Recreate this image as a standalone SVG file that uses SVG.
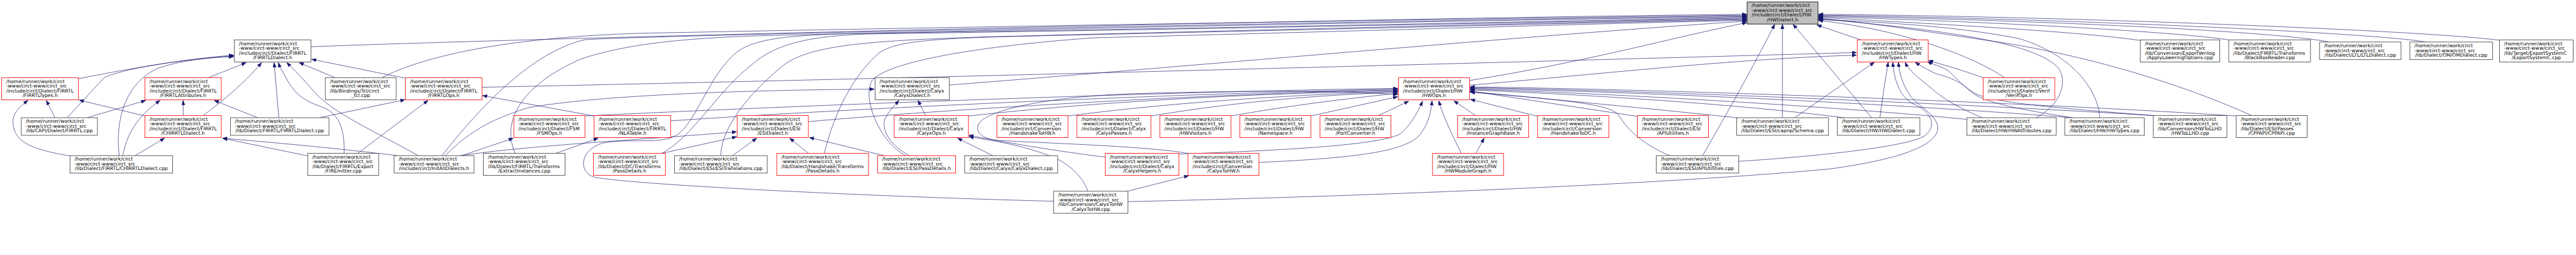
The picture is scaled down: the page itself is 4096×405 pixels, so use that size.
<svg xmlns="http://www.w3.org/2000/svg" width="4096" height="405" viewBox="0 0 4096 405">
<defs>
<style>
.n rect{fill:#fff;stroke:#404040;stroke-width:1.4}
.r rect{stroke:#ff0000}
.root rect{fill:#bfbfbf;stroke:#000}
text{font-family:"DejaVu Sans","Liberation Sans",sans-serif;font-size:12.8px;fill:#000}
.m{text-anchor:middle}
.e path{fill:none;stroke:#191970;stroke-width:1.1;marker-end:url(#a)}
</style>
<marker id="a" markerUnits="userSpaceOnUse" markerWidth="13" markerHeight="10" refX="12" refY="4.5" orient="auto"><path d="M0,0 L12,4.5 L0,9 z" fill="#191970" stroke="#191970" stroke-width="1"/></marker>
</defs>
<rect width="4096" height="405" fill="#fff"/>
<g transform="scale(0.6)">
<g id="edges" class="e">
<path d="M824.5,123.6 C1600,95 3800,45 4629,38"/>
<path d="M1012,205.5 C1100,160 1300,100 1700,88 C2600,70 4000,48 4629,40"/>
<path d="M1171,412 C1260,300 1400,140 1550,105 C1800,90 4000,50 4629,42"/>
<path d="M1365.5,406 C1330,330 1370,230 1540,156 C1650,120 1780,103 2000,95 C3000,70 4200,50 4629,44"/>
<path d="M2792,532.7 C2300,520 1700,490 1580,470 C1530,460 1535,395 1600,378 C1680,365 1760,385 1800,353 C1850,310 1880,200 1950,140 C2000,100 2100,92 2300,88 C3500,70 4300,52 4629,46"/>
<path d="M1753.6,406 C1840,360 1900,240 2000,165 C2060,115 2150,95 2300,90 C3500,72 4300,54 4629,48"/>
<path d="M1910,412 C1912,340 1980,250 2080,170 C2150,120 2300,108 2600,98 C3500,75 4300,56 4629,50"/>
<path d="M2184.5,406 C2210,300 2260,200 2330,140 C2370,112 2450,102 2700,96 C3600,76 4300,58 4629,52"/>
<path d="M2400,412 C2330,375 2285,260 2310,215 C2340,170 2550,125 2900,100 C3700,80 4300,60 4629,54"/>
<path d="M2515.6,225 C3100,180 4100,90 4629,56"/>
<path d="M3894.5,213 C4200,165 4450,95 4629,60"/>
<path d="M4931,105.5 L4815,66"/>
<path d="M1277.5,231 C2400,208 4000,165 4920,139"/>
<path d="M3894.5,225.5 C4200,200 4600,155 4920,146"/>
<path d="M6629,107 C6400,78 5400,42 4819,38"/>
<path d="M6430,111.3 C6300,88 5500,50 4819,40"/>
<path d="M6173,111.3 C6050,86 5500,56 4819,42"/>
<path d="M5908,106 C5780,85 5300,58 4819,44"/>
<path d="M5672,107 C5500,82 5100,62 4819,46"/>
<path d="M5967,305.8 C5800,230 5550,150 5300,112 C5100,82 4950,60 4819,48"/>
<path d="M5395.5,311.6 C5450,285 5485,225 5455,180 C5400,120 5200,82 4819,50"/>
<path d="M5564.5,311.6 C5560,230 5480,140 5350,102 C5200,72 5000,58 4819,52"/>
<path d="M5312,205.5 C5230,150 5050,80 4819,54"/>
<path d="M4723.6,311.6 L4723.6,64.5"/>
<path d="M4960,311.6 L4752,64.5"/>
<path d="M4512,412 C4545,355 4640,190 4703,64.5"/>
<path d="M4756,311.6 L4967,165"/>
<path d="M4982,311.6 C4990,250 4998,200 5004,165"/>
<path d="M4608,427 C4800,415 5050,390 5100,360 C5140,330 5110,290 5070,275 C5040,260 5020,220 5016,165"/>
<path d="M2989.3,533.8 C3800,515 4500,480 4850,447 C5050,420 5140,380 5135,335 C5130,300 5080,280 5060,250 C5040,220 5033,190 5031,165"/>
<path d="M5253.6,311.6 C5200,290 5150,262 5120,235 C5090,210 5060,190 5049,165"/>
<path d="M5493.6,311.6 C5350,290 5250,270 5220,240 C5190,210 5150,200 5130,195 C5110,185 5090,175 5076,165"/>
<path d="M5711,306 C5500,290 5300,275 5240,250 C5200,230 5180,200 5160,185 C5140,175 5125,170 5108,164"/>
<path d="M5255.5,206 C5200,185 5150,172 5111,160"/>
<path d="M4074.7,308 L3897,263"/>
<path d="M4339,308 L3896,241"/>
<path d="M4424.5,412 C4350,380 4310,340 4290,305 C4270,280 4200,268 3896,244"/>
<path d="M4605,312 C4400,290 4100,262 3896,242"/>
<path d="M4887,311.6 C4600,275 4200,250 3896,238"/>
<path d="M5212.5,316 C4900,285 4300,248 3896,236"/>
<path d="M5490,311.6 C5100,280 4400,244 3896,234"/>
<path d="M5706.5,306 C5300,280 4400,240 3896,232"/>
<path d="M5926,307 C5400,272 4400,236 3896,230"/>
<path d="M1550,307 C2200,275 3200,240 3704,234"/>
<path d="M1777,320 C2300,284 3200,245 3704,236"/>
<path d="M2142,322 C2500,290 3200,248 3704,238"/>
<path d="M2566.5,307 C2900,270 3300,248 3704,240"/>
<path d="M2830,307 C3100,272 3400,252 3704,242"/>
<path d="M3050,307 C3300,266 3500,252 3704,244"/>
<path d="M3262,307 C3450,274 3600,258 3704,247"/>
<path d="M3473.8,307 L3704,256"/>
<path d="M3148,406 C3050,388 2800,380 2650,372 C2590,368 2580,340 2600,320 C2640,285 2800,255 3000,248 C3300,240 3500,238 3704,250"/>
<path d="M3652.7,306 L3733,268"/>
<path d="M3122,408 C3400,398 3650,385 3710,355 C3740,330 3755,300 3770,268"/>
<path d="M3336.5,430 C3600,418 3720,400 3760,360 C3785,330 3792,300 3795,267"/>
<path d="M3872.7,406 C3850,360 3825,310 3813,267"/>
<path d="M3911,306 L3853,267"/>
<path d="M3911,406 L3933,366"/>
<path d="M2929,416 C2800,400 2650,375 2568,358"/>
<path d="M2883,506 C2870,470 2840,440 2800,420 C2720,385 2620,370 2568,362"/>
<path d="M2452.7,305.8 L2433,266"/>
<path d="M2631,412 L2538,366"/>
<path d="M2410,412 C2360,385 2335,345 2345,315 C2355,295 2370,280 2382,266"/>
<path d="M2343,412 L2145,364"/>
<path d="M2989,506 L3150,465"/>
<path d="M208,208.4 C350,180 500,155 619,146"/>
<path d="M178,311.6 L276,205.5 C320,185 450,160 619,148"/>
<path d="M316,412 C305,320 330,220 420,180 C480,160 550,152 619,150"/>
<path d="M552.7,205.5 L652,166"/>
<path d="M538,305.8 C560,290 640,230 693,166"/>
<path d="M739,311.6 L726.4,166"/>
<path d="M911.8,406 C915,330 890,295 850,282 C800,265 780,245 760,210 C750,190 742,180 738,166"/>
<path d="M1108,412 C1000,350 880,300 830,240 C800,205 780,185 760,166"/>
<path d="M888,205.5 L793,166"/>
<path d="M1074.4,207 L826,157"/>
<path d="M145.5,311.6 L123,266"/>
<path d="M185.5,412.7 C80,395 40,375 35,330 C30,300 55,280 74,266"/>
<path d="M384,307 L210,265"/>
<path d="M231,311.6 L386,266"/>
<path d="M325.5,412 C335,360 360,310 424,266"/>
<path d="M485.5,305.8 L485.5,266"/>
<path d="M683,311.6 L568,266"/>
<path d="M358,412 L436,366"/>
<path d="M815.5,412.7 L590,366"/>
<path d="M1053.6,412 C900,393 700,375 590,366"/>
<path d="M846,311.6 L1073,264"/>
<path d="M948,406 L1134,266"/>
<path d="M1574.5,307 L1279,253"/>
<path d="M1223.6,412 L1360,366"/>
<path d="M1472.7,406 L1585,366"/>
<path d="M1220,412 C1400,385 1700,370 1952,349"/>
<path d="M1753.6,406 L1952,362"/>
<path d="M1941,412 L2005,366"/>
<path d="M2142.7,406 L2093,366"/>
<path d="M1180,412 C1250,340 1320,310 1400,285 C1600,250 2000,238 2317,236"/>
</g>
<g id="n_hwdialect_h" class="n root"><rect x="4630" y="5.1" width="188" height="58.5"/><text x="4642" y="18.9">/home/runner/work/circt</text><text x="4642" y="31.4">-www/circt-www/circt_src</text><text x="4642" y="43.9">/include/circt/Dialect/HW</text><text class="m" x="4724" y="56.4">/HWDialect.h</text></g>
<g id="n_firrtldialect_h" class="n"><rect x="621" y="105.5" width="203" height="58.5"/><text x="633" y="119.3">/home/runner/work/circt</text><text x="633" y="131.8">-www/circt-www/circt_src</text><text x="633" y="144.3">/include/circt/Dialect/FIRRTL</text><text class="m" x="722.5" y="156.8">/FIRRTLDialect.h</text></g>
<g id="n_hwtypes_h" class="n r"><rect x="4922" y="105.5" width="188" height="58.5"/><text x="4934" y="119.3">/home/runner/work/circt</text><text x="4934" y="131.8">-www/circt-www/circt_src</text><text x="4934" y="144.3">/include/circt/Dialect/HW</text><text class="m" x="5016" y="156.8">/HWTypes.h</text></g>
<g id="n_applylowering" class="n"><rect x="5672" y="105.5" width="210.5" height="58.5"/><text x="5684" y="119.3">/home/runner/work/circt</text><text x="5684" y="131.8">-www/circt-www/circt_src</text><text x="5684" y="144.3">/lib/Conversion/ExportVerilog</text><text class="m" x="5777.2" y="156.8">/ApplyLoweringOptions.cpp</text></g>
<g id="n_blackbox" class="n"><rect x="5906.5" y="105.5" width="216.5" height="58.5"/><text x="5918.5" y="119.3">/home/runner/work/circt</text><text x="5918.5" y="131.8">-www/circt-www/circt_src</text><text x="5918.5" y="144.3">/lib/Dialect/FIRRTL/Transforms</text><text class="m" x="6014.7" y="156.8">/BlackBoxReader.cpp</text></g>
<g id="n_ltl" class="n"><rect x="6147" y="111.3" width="216" height="46.5"/><text x="6159" y="125.1">/home/runner/work/circt</text><text x="6159" y="137.6">-www/circt-www/circt_src</text><text class="m" x="6255" y="150.1">/lib/Dialect/LTL/LTLDialect.cpp</text></g>
<g id="n_om" class="n"><rect x="6386.5" y="111.3" width="219" height="46.5"/><text x="6398.5" y="125.1">/home/runner/work/circt</text><text x="6398.5" y="137.6">-www/circt-www/circt_src</text><text class="m" x="6496" y="150.1">/lib/Dialect/OM/OMDialect.cpp</text></g>
<g id="n_exportsystemc" class="n"><rect x="6624" y="105.5" width="195" height="58.5"/><text x="6636" y="119.3">/home/runner/work/circt</text><text x="6636" y="131.8">-www/circt-www/circt_src</text><text x="6636" y="144.3">/lib/Target/ExportSystemC</text><text class="m" x="6721.5" y="156.8">/ExportSystemC.cpp</text></g>
<g id="n_firrtltypes_h" class="n r"><rect x="4.4" y="205.5" width="203.6" height="58.9"/><text x="16.4" y="219.3">/home/runner/work/circt</text><text x="16.4" y="231.8">-www/circt-www/circt_src</text><text x="16.4" y="244.3">/include/circt/Dialect/FIRRTL</text><text class="m" x="106.2" y="256.8">/FIRRTLTypes.h</text></g>
<g id="n_firrtlattributes_h" class="n r"><rect x="384" y="205.5" width="202.4" height="58.9"/><text x="396" y="219.3">/home/runner/work/circt</text><text x="396" y="231.8">-www/circt-www/circt_src</text><text x="396" y="244.3">/include/circt/Dialect/FIRRTL</text><text class="m" x="485.2" y="256.8">/FIRRTLAttributes.h</text></g>
<g id="n_circt_tcl" class="n"><rect x="862" y="205.5" width="188" height="58.9"/><text x="874" y="219.3">/home/runner/work/circt</text><text x="874" y="231.8">-www/circt-www/circt_src</text><text x="874" y="244.3">/lib/Bindings/Tcl/circt</text><text class="m" x="956" y="256.8">_tcl.cpp</text></g>
<g id="n_firrtlops_h" class="n r"><rect x="1074.4" y="205.5" width="203.1" height="58.9"/><text x="1086.4" y="219.3">/home/runner/work/circt</text><text x="1086.4" y="231.8">-www/circt-www/circt_src</text><text x="1086.4" y="244.3">/include/circt/Dialect/FIRRTL</text><text class="m" x="1176" y="256.8">/FIRRTLOps.h</text></g>
<g id="n_calyxdialect_h" class="n"><rect x="2319" y="205.5" width="196.6" height="58.9"/><text x="2331" y="219.3">/home/runner/work/circt</text><text x="2331" y="231.8">-www/circt-www/circt_src</text><text x="2331" y="244.3">/include/circt/Dialect/Calyx</text><text class="m" x="2417.3" y="256.8">/CalyxDialect.h</text></g>
<g id="n_hwops_h" class="n r"><rect x="3706" y="205.5" width="188.5" height="58.9"/><text x="3718" y="219.3">/home/runner/work/circt</text><text x="3718" y="231.8">-www/circt-www/circt_src</text><text x="3718" y="244.3">/include/circt/Dialect/HW</text><text class="m" x="3800" y="256.8">/HWOps.h</text></g>
<g id="n_verifops_h" class="n r"><rect x="5255.5" y="205.5" width="189.8" height="58.9"/><text x="5267.5" y="219.3">/home/runner/work/circt</text><text x="5267.5" y="231.8">-www/circt-www/circt_src</text><text x="5267.5" y="244.3">/include/circt/Dialect/Verif</text><text class="m" x="5350.4" y="256.8">/VerifOps.h</text></g>
<g id="n_chirrtldialect_h" class="n r"><rect x="384" y="305.8" width="202.4" height="58.5"/><text x="396" y="319.6">/home/runner/work/circt</text><text x="396" y="332.1">-www/circt-www/circt_src</text><text x="396" y="344.6">/include/circt/Dialect/FIRRTL</text><text class="m" x="485.2" y="357.1">/CHIRRTLDialect.h</text></g>
<g id="n_capi_firrtl" class="n"><rect x="56.4" y="311.6" width="201.8" height="46.6"/><text x="68.4" y="325.4">/home/runner/work/circt</text><text x="68.4" y="337.9">-www/circt-www/circt_src</text><text class="m" x="157.3" y="350.4">/lib/CAPI/Dialect/FIRRTL.cpp</text></g>
<g id="n_firrtldialect_cpp" class="n"><rect x="610.7" y="311.6" width="261.1" height="46.6"/><text x="622.7" y="325.4">/home/runner/work/circt</text><text x="622.7" y="337.9">-www/circt-www/circt_src</text><text class="m" x="741.2" y="350.4">/lib/Dialect/FIRRTL/FIRRTLDialect.cpp</text></g>
<g id="n_fsmops_h" class="n r"><rect x="1361.8" y="305.8" width="188.4" height="58.5"/><text x="1373.8" y="319.6">/home/runner/work/circt</text><text x="1373.8" y="332.1">-www/circt-www/circt_src</text><text x="1373.8" y="344.6">/include/circt/Dialect/FSM</text><text class="m" x="1456" y="357.1">/FSMOps.h</text></g>
<g id="n_nlatable_h" class="n r"><rect x="1574.5" y="305.8" width="202.8" height="58.5"/><text x="1586.5" y="319.6">/home/runner/work/circt</text><text x="1586.5" y="332.1">-www/circt-www/circt_src</text><text x="1586.5" y="344.6">/include/circt/Dialect/FIRRTL</text><text class="m" x="1675.9" y="357.1">/NLATable.h</text></g>
<g id="n_esidialect_h" class="n r"><rect x="1953.6" y="305.8" width="188.4" height="58.5"/><text x="1965.6" y="319.6">/home/runner/work/circt</text><text x="1965.6" y="332.1">-www/circt-www/circt_src</text><text x="1965.6" y="344.6">/include/circt/Dialect/ESI</text><text class="m" x="2047.8" y="357.1">/ESIDialect.h</text></g>
<g id="n_calyxops_h" class="n r"><rect x="2369.8" y="305.8" width="196.7" height="58.5"/><text x="2381.8" y="319.6">/home/runner/work/circt</text><text x="2381.8" y="332.1">-www/circt-www/circt_src</text><text x="2381.8" y="344.6">/include/circt/Dialect/Calyx</text><text class="m" x="2468.2" y="357.1">/CalyxOps.h</text></g>
<g id="n_handshaketohw_h" class="n r"><rect x="2641.8" y="305.8" width="188.4" height="58.5"/><text x="2653.8" y="319.6">/home/runner/work/circt</text><text x="2653.8" y="332.1">-www/circt-www/circt_src</text><text x="2653.8" y="344.6">/include/circt/Conversion</text><text class="m" x="2736" y="357.1">/HandshakeToHW.h</text></g>
<g id="n_calyxpasses_h" class="n r"><rect x="2853.6" y="305.8" width="196.4" height="58.5"/><text x="2865.6" y="319.6">/home/runner/work/circt</text><text x="2865.6" y="332.1">-www/circt-www/circt_src</text><text x="2865.6" y="344.6">/include/circt/Dialect/Calyx</text><text class="m" x="2951.8" y="357.1">/CalyxPasses.h</text></g>
<g id="n_hwvisitors_h" class="n r"><rect x="3073.6" y="305.8" width="188.4" height="58.5"/><text x="3085.6" y="319.6">/home/runner/work/circt</text><text x="3085.6" y="332.1">-www/circt-www/circt_src</text><text x="3085.6" y="344.6">/include/circt/Dialect/HW</text><text class="m" x="3167.8" y="357.1">/HWVisitors.h</text></g>
<g id="n_namespace_h" class="n r"><rect x="3285.6" y="305.8" width="188.2" height="58.5"/><text x="3297.6" y="319.6">/home/runner/work/circt</text><text x="3297.6" y="332.1">-www/circt-www/circt_src</text><text x="3297.6" y="344.6">/include/circt/Dialect/HW</text><text class="m" x="3379.7" y="357.1">/Namespace.h</text></g>
<g id="n_portconverter_h" class="n r"><rect x="3498.2" y="305.8" width="188" height="58.5"/><text x="3510.2" y="319.6">/home/runner/work/circt</text><text x="3510.2" y="332.1">-www/circt-www/circt_src</text><text x="3510.2" y="344.6">/include/circt/Dialect/HW</text><text class="m" x="3592.2" y="357.1">/PortConverter.h</text></g>
<g id="n_instancegraphbase_h" class="n r"><rect x="3862.9" y="305.8" width="188.2" height="58.5"/><text x="3874.9" y="319.6">/home/runner/work/circt</text><text x="3874.9" y="332.1">-www/circt-www/circt_src</text><text x="3874.9" y="344.6">/include/circt/Dialect/HW</text><text class="m" x="3957" y="357.1">/InstanceGraphBase.h</text></g>
<g id="n_handshaketodc_h" class="n r"><rect x="4074.7" y="305.8" width="188.8" height="58.5"/><text x="4086.7" y="319.6">/home/runner/work/circt</text><text x="4086.7" y="332.1">-www/circt-www/circt_src</text><text x="4086.7" y="344.6">/include/circt/Conversion</text><text class="m" x="4169.1" y="357.1">/HandshakeToDC.h</text></g>
<g id="n_apiutilities_h" class="n r"><rect x="4339" y="305.8" width="188.5" height="58.5"/><text x="4351" y="319.6">/home/runner/work/circt</text><text x="4351" y="332.1">-www/circt-www/circt_src</text><text x="4351" y="344.6">/include/circt/Dialect/ESI</text><text class="m" x="4433.2" y="357.1">/APIUtilities.h</text></g>
<g id="n_schema_cpp" class="n"><rect x="4602.5" y="311.6" width="243" height="46.6"/><text x="4614.5" y="325.4">/home/runner/work/circt</text><text x="4614.5" y="337.9">-www/circt-www/circt_src</text><text class="m" x="4724" y="350.4">/lib/Dialect/ESI/capnp/Schema.cpp</text></g>
<g id="n_hwdialect_cpp" class="n"><rect x="4869" y="311.6" width="219" height="46.6"/><text x="4881" y="325.4">/home/runner/work/circt</text><text x="4881" y="337.9">-www/circt-www/circt_src</text><text class="m" x="4978.5" y="350.4">/lib/Dialect/HW/HWDialect.cpp</text></g>
<g id="n_hwattributes_cpp" class="n"><rect x="5212.5" y="311.6" width="236.4" height="46.6"/><text x="5224.5" y="325.4">/home/runner/work/circt</text><text x="5224.5" y="337.9">-www/circt-www/circt_src</text><text class="m" x="5330.7" y="350.4">/lib/Dialect/HW/HWAttributes.cpp</text></g>
<g id="n_hwtypes_cpp" class="n"><rect x="5471.8" y="311.6" width="210.9" height="46.6"/><text x="5483.8" y="325.4">/home/runner/work/circt</text><text x="5483.8" y="337.9">-www/circt-www/circt_src</text><text class="m" x="5577.2" y="350.4">/lib/Dialect/HW/HWTypes.cpp</text></g>
<g id="n_hwtollhd_cpp" class="n"><rect x="5706.5" y="305.8" width="195" height="58.5"/><text x="5718.5" y="319.6">/home/runner/work/circt</text><text x="5718.5" y="332.1">-www/circt-www/circt_src</text><text x="5718.5" y="344.6">/lib/Conversion/HWToLLHD</text><text class="m" x="5804" y="357.1">/HWToLLHD.cpp</text></g>
<g id="n_cppapi_cpp" class="n"><rect x="5926.2" y="305.8" width="188" height="58.5"/><text x="5938.2" y="319.6">/home/runner/work/circt</text><text x="5938.2" y="332.1">-www/circt-www/circt_src</text><text x="5938.2" y="344.6">/lib/Dialect/ESI/Passes</text><text class="m" x="6020.2" y="357.1">/CPPAPI/CPPAPI.cpp</text></g>
<g id="n_chirrtldialect_cpp" class="n"><rect x="185.5" y="412" width="272" height="46.2"/><text x="197.5" y="425.8">/home/runner/work/circt</text><text x="197.5" y="438.3">-www/circt-www/circt_src</text><text class="m" x="321.5" y="450.8">/lib/Dialect/FIRRTL/CHIRRTLDialect.cpp</text></g>
<g id="n_firemitter_cpp" class="n"><rect x="815.5" y="406" width="188" height="58.4"/><text x="827.5" y="419.8">/home/runner/work/circt</text><text x="827.5" y="432.3">-www/circt-www/circt_src</text><text x="827.5" y="444.8">/lib/Dialect/FIRRTL/Export</text><text class="m" x="909.5" y="457.3">/FIREmitter.cpp</text></g>
<g id="n_initalldialects_h" class="n"><rect x="1044.5" y="412" width="211.9" height="46.2"/><text x="1056.5" y="425.8">/home/runner/work/circt</text><text x="1056.5" y="438.3">-www/circt-www/circt_src</text><text class="m" x="1150.4" y="450.8">/include/circt/InitAllDialects.h</text></g>
<g id="n_extractinstances_cpp" class="n"><rect x="1281" y="406" width="216.5" height="58.4"/><text x="1293" y="419.8">/home/runner/work/circt</text><text x="1293" y="432.3">-www/circt-www/circt_src</text><text x="1293" y="444.8">/lib/Dialect/FIRRTL/Transforms</text><text class="m" x="1389.2" y="457.3">/ExtractInstances.cpp</text></g>
<g id="n_dc_passdetails_h" class="n r"><rect x="1572.7" y="406" width="190.8" height="58.4"/><text x="1584.7" y="419.8">/home/runner/work/circt</text><text x="1584.7" y="432.3">-www/circt-www/circt_src</text><text x="1584.7" y="444.8">/lib/Dialect/DC/Transforms</text><text class="m" x="1668.1" y="457.3">/PassDetails.h</text></g>
<g id="n_esitranslations_cpp" class="n"><rect x="1787.5" y="412" width="245.8" height="46.2"/><text x="1799.5" y="425.8">/home/runner/work/circt</text><text x="1799.5" y="438.3">-www/circt-www/circt_src</text><text class="m" x="1910.4" y="450.8">/lib/Dialect/ESI/ESITranslations.cpp</text></g>
<g id="n_hs_passdetails_h" class="n r"><rect x="2058.4" y="406" width="243.4" height="58.4"/><text x="2070.4" y="419.8">/home/runner/work/circt</text><text x="2070.4" y="432.3">-www/circt-www/circt_src</text><text x="2070.4" y="444.8">/lib/Dialect/Handshake/Transforms</text><text class="m" x="2180.1" y="457.3">/PassDetails.h</text></g>
<g id="n_esi_passdetails_h" class="n r"><rect x="2325.5" y="412" width="207.2" height="46.2"/><text x="2337.5" y="425.8">/home/runner/work/circt</text><text x="2337.5" y="438.3">-www/circt-www/circt_src</text><text class="m" x="2429.1" y="450.8">/lib/Dialect/ESI/PassDetails.h</text></g>
<g id="n_calyxdialect_cpp" class="n"><rect x="2556.4" y="412" width="246.6" height="46.2"/><text x="2568.4" y="425.8">/home/runner/work/circt</text><text x="2568.4" y="438.3">-www/circt-www/circt_src</text><text class="m" x="2679.7" y="450.8">/lib/Dialect/Calyx/CalyxDialect.cpp</text></g>
<g id="n_calyxhelpers_h" class="n r"><rect x="2928.9" y="406" width="195.6" height="58.4"/><text x="2940.9" y="419.8">/home/runner/work/circt</text><text x="2940.9" y="432.3">-www/circt-www/circt_src</text><text x="2940.9" y="444.8">/include/circt/Dialect/Calyx</text><text class="m" x="3026.7" y="457.3">/CalyxHelpers.h</text></g>
<g id="n_calyxtohw_h" class="n r"><rect x="3148.2" y="406" width="188.3" height="58.4"/><text x="3160.2" y="419.8">/home/runner/work/circt</text><text x="3160.2" y="432.3">-www/circt-www/circt_src</text><text x="3160.2" y="444.8">/include/circt/Conversion</text><text class="m" x="3242.3" y="457.3">/CalyxToHW.h</text></g>
<g id="n_hwmodulegraph_h" class="n r"><rect x="3796.4" y="406" width="188.3" height="58.4"/><text x="3808.4" y="419.8">/home/runner/work/circt</text><text x="3808.4" y="432.3">-www/circt-www/circt_src</text><text x="3808.4" y="444.8">/include/circt/Dialect/HW</text><text class="m" x="3890.5" y="457.3">/HWModuleGraph.h</text></g>
<g id="n_apiutilities_cpp" class="n"><rect x="4389.3" y="412" width="218.7" height="46.2"/><text x="4401.3" y="425.8">/home/runner/work/circt</text><text x="4401.3" y="438.3">-www/circt-www/circt_src</text><text class="m" x="4498.6" y="450.8">/lib/Dialect/ESI/APIUtilities.cpp</text></g>
<g id="n_calyxtohw_cpp" class="n"><rect x="2792" y="506.2" width="197.3" height="58.5"/><text x="2804" y="520">/home/runner/work/circt</text><text x="2804" y="532.5">-www/circt-www/circt_src</text><text x="2804" y="545">/lib/Conversion/CalyxToHW</text><text class="m" x="2890.6" y="557.5">/CalyxToHW.cpp</text></g>
</g>
</svg>
